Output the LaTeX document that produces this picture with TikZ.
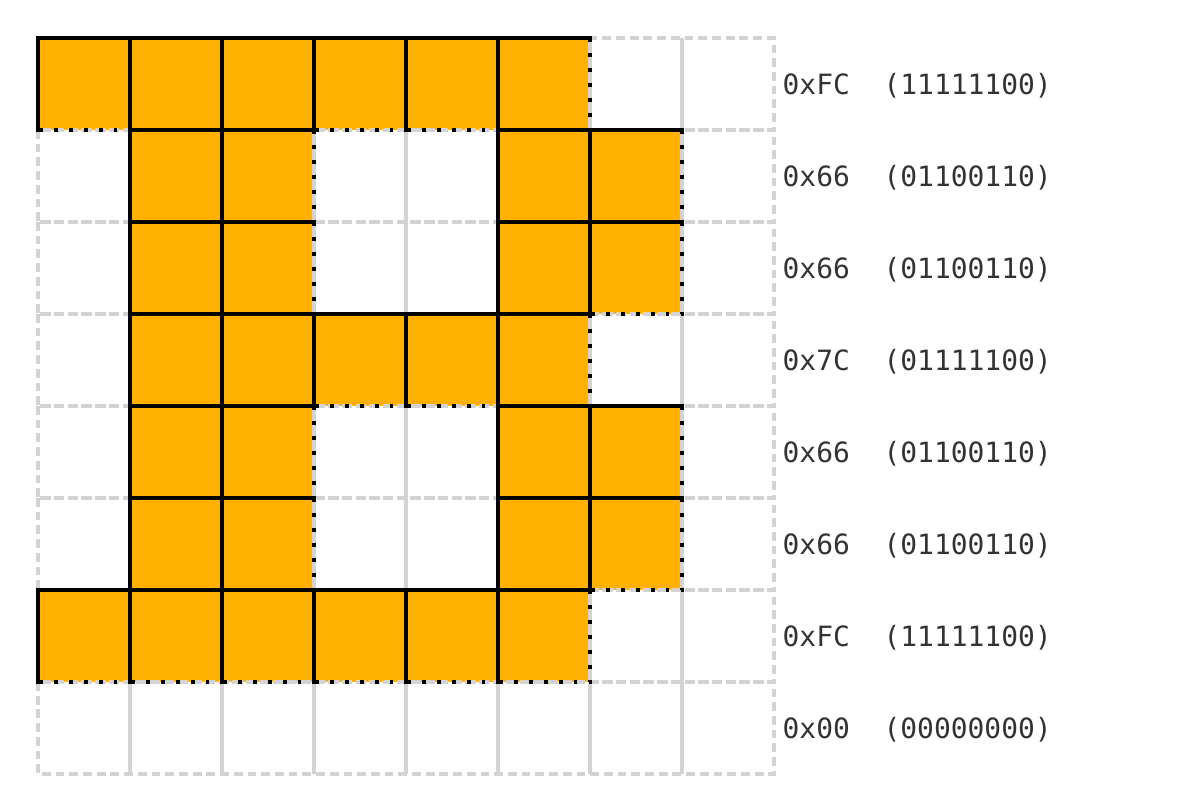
\documentclass[tikz,border=0pt]{standalone}
\usepackage{fontspec}
\setmonofont{DejaVu Sans Mono}
\usepackage{xcolor}
\definecolor{bitfill}{HTML}{FFB000}
\definecolor{gridgray}{HTML}{D3D3D3}
\definecolor{labelgray}{HTML}{333333}
\tikzset{
  gridline/.style={gridgray, line width=1.9pt},
  gridedge/.style={gridline, dash pattern=on 5pt off 2.8pt},
  bitedge/.style={black, line width=2pt, line cap=rect},
  bitopen/.style={black, line width=2pt, dash pattern=on 2.2pt off 6.3pt},
  rowlabel/.style={anchor=west, inner sep=0pt, text=labelgray, font=\ttfamily\fontsize{15.9}{18}\selectfont}
}
% row/hex/binary/bits
\def\bitrows{0/FC/11111100/{1,1,1,1,1,1,0,0},
             1/66/01100110/{0,1,1,0,0,1,1,0},
             2/66/01100110/{0,1,1,0,0,1,1,0},
             3/7C/01111100/{0,1,1,1,1,1,0,0},
             4/66/01100110/{0,1,1,0,0,1,1,0},
             5/66/01100110/{0,1,1,0,0,1,1,0},
             6/FC/11111100/{1,1,1,1,1,1,0,0},
             7/00/00000000/{0,0,0,0,0,0,0,0}}

\begin{document}
\begin{tikzpicture}[x=1.84cm, y=-1.84cm]
\useasboundingbox (-0.413,-0.413) rectangle (12.413,8.413);

% set bits
\foreach \r/\hex/\bin/\bits in \bitrows {
  \foreach \b [count=\c from 0] in \bits {
    \ifnum\b=1 \fill[bitfill] (\c,\r) rectangle ++(1,1); \fi
  }
}

% grid
\foreach \r in {0,...,7} {
  \foreach \c in {1,...,7}
    \draw[gridline] (\c,\r) -- ++(0,1);
  \draw[gridedge] (0,\r) rectangle ++(8,1);
}

% open edges first, closed edges on top
\foreach \r/\hex/\bin/\bits in \bitrows {
  \foreach \b [count=\c from 0] in \bits {
    \ifnum\b=1 \draw[bitopen] (\c+1,\r) -- ++(0,1) -- ++(-1,0); \fi
  }
}
\foreach \r/\hex/\bin/\bits in \bitrows {
  \foreach \b [count=\c from 0] in \bits {
    \ifnum\b=1 \draw[bitedge] (\c,\r+1) -- (\c,\r) -- (\c+1,\r); \fi
  }
  \node[rowlabel] (row\r) at (8.09,\r+0.52) {0x\hex~~(\bin)};
}

\end{tikzpicture}
\end{document}
